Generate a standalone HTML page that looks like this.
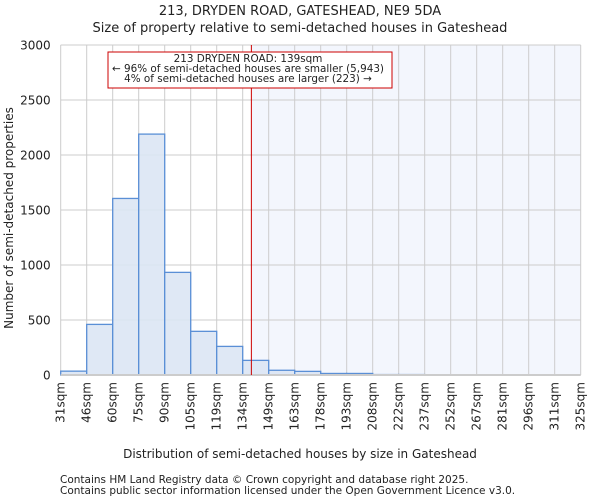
<!DOCTYPE html>
<html><head><meta charset="utf-8"><style>
body{margin:0;background:#fff;font-family:"DejaVu Sans","Liberation Sans",sans-serif;}
svg text{font-family:"DejaVu Sans","Liberation Sans",sans-serif;fill:#222;}
</style></head><body>
<svg width="600" height="500">
<text x="300" y="15" text-anchor="middle" font-size="13">213, DRYDEN ROAD, GATESHEAD, NE9 5DA</text>
<text x="300" y="32" text-anchor="middle" font-size="13">Size of property relative to semi-detached houses in Gateshead</text>
<g id="plot"></g>
<text x="300" y="458" text-anchor="middle" font-size="12">Distribution of semi-detached houses by size in Gateshead</text>
<text transform="translate(13,218) rotate(-90)" text-anchor="middle" font-size="12">Number of semi-detached properties</text>
<text x="60" y="483" font-size="10.5">Contains HM Land Registry data © Crown copyright and database right 2025.</text>
<text x="60" y="494" font-size="10.5">Contains public sector information licensed under the Open Government Licence v3.0.</text>
</svg>
<script>
const binLabels=["31sqm","46sqm","60sqm","75sqm","90sqm","105sqm","119sqm","134sqm","149sqm","163sqm","178sqm","193sqm","208sqm","222sqm","237sqm","252sqm","267sqm","281sqm","296sqm","311sqm","325sqm"];
const binEdges=[31,46,60,75,90,105,119,134,149,163,178,193,208,222,237,252,267,281,296,311,325];
const counts=[35,460,1605,2190,933,397,260,133,43,33,14,14,4,4,1,0,0,0,0,0];
const yTicks=[0,500,1000,1500,2000,2500,3000];
const propertySize=139;
const L=60.7,R=580.7,T=45,B=375,yMax=3000,n=counts.length;
const bw=(R-L)/n;
function xi(i){return L+i*bw;}
function xv(v){let i=0;while(i<binEdges.length-2&&v>binEdges[i+1])i++;return xi(i)+bw*(v-binEdges[i])/(binEdges[i+1]-binEdges[i]);}
function y(v){return B-(B-T)*v/yMax;}
const NS="http://www.w3.org/2000/svg",g=document.getElementById('plot');
function mk(t,a,p){const e=document.createElementNS(NS,t);for(const k in a)e.setAttribute(k,a[k]);(p||g).appendChild(e);return e;}
const px=xv(propertySize);
let sh=mk('rect',{x:px,y:T,width:R-px,height:B-T,fill:'#f3f6fd'});


for(let i=0;i<=n;i++){let l=mk('line',{x1:xi(i),x2:xi(i),y1:T,y2:B,stroke:'#ccc','stroke-width':1});

}
yTicks.forEach(t=>{let l=mk('line',{x1:L,x2:R,y1:y(t),y2:y(t),stroke:'#ccc','stroke-width':1});


let tx=mk('text',{x:L-10,y:y(t)+4.5,'text-anchor':'end','font-size':12});tx.textContent=t;

});
counts.forEach((c,i)=>{if(c<=0)return;let r=mk('rect',{x:xi(i),y:y(c),width:bw,height:B-y(c),fill:'#dce6f4',stroke:'#5a8fd6','stroke-width':1.3,'fill-opacity':0.9});

});
mk('line',{x1:L,x2:R,y1:B,y2:B,stroke:'#ccc','stroke-width':2});
binLabels.forEach((s,i)=>{const x=xi(i);let tx=mk('text',{transform:`translate(${x+4},${B+7}) rotate(-90)`,'text-anchor':'end','font-size':12});tx.textContent=s;

});
let pl=mk('line',{x1:px,x2:px,y1:T,y2:B,stroke:'#c00','stroke-width':1});


let box=mk('rect',{x:108,y:52,width:284,height:36,fill:'#fff',stroke:'#c00','stroke-width':1});


["213 DRYDEN ROAD: 139sqm","← 96% of semi-detached houses are smaller (5,943)","4% of semi-detached houses are larger (223) →"].forEach((s,i)=>{let tx=mk('text',{x:248,y:62+i*10,'text-anchor':'middle','font-size':10.4});tx.textContent=s;

});
</script>
</body></html>
